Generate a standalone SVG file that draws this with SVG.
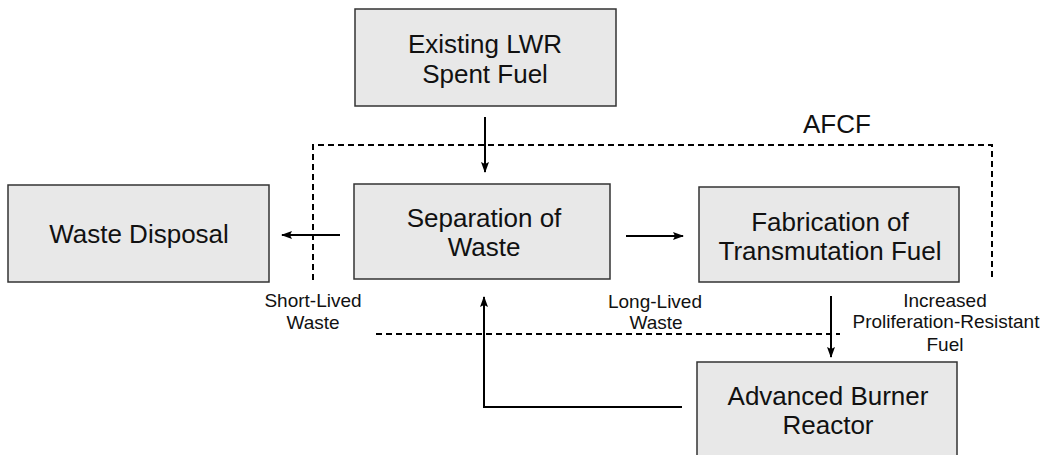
<svg xmlns="http://www.w3.org/2000/svg" width="1043" height="455" viewBox="0 0 1043 455">
<style>
.box{fill:#e8e8e8;stroke:#333;stroke-width:1.5}
.t{font-family:"Liberation Sans",Arial,sans-serif;font-size:26px;fill:#111;text-anchor:middle}
.s{font-family:"Liberation Sans",Arial,sans-serif;font-size:19px;fill:#111;text-anchor:middle}
.a{fill:none;stroke:#000;stroke-width:2;marker-end:url(#ah)}
.d{fill:none;stroke:#000;stroke-width:2;stroke-dasharray:6,4}
</style>
<defs>
<marker id="ah" viewBox="0 0 11 8" refX="10" refY="4" markerWidth="11" markerHeight="8" markerUnits="userSpaceOnUse" orient="auto">
<path d="M0,0 L11,4 L0,8 L2,4 Z" fill="#000"/>
</marker>
</defs>
<rect width="1043" height="455" fill="#fff"/>
<g id="afcf">
<polyline class="d" points="313,280 313,145 992,145 992,278"/>
<line class="d" x1="376" y1="334" x2="840" y2="334"/>
<text x="803" y="133" font-family="Liberation Sans,Arial,sans-serif" font-size="26" fill="#111">AFCF</text>
</g>
<g id="lwr">
<rect class="box" x="355" y="9" width="261" height="97"/>
<text class="t" x="485" y="53">Existing LWR</text>
<text class="t" x="485" y="83">Spent Fuel</text>
</g>
<g id="disposal">
<rect class="box" x="8" y="185" width="261" height="97"/>
<text class="t" x="139" y="243">Waste Disposal</text>
</g>
<g id="separation">
<rect class="box" x="354" y="184" width="256" height="95"/>
<text class="t" x="484" y="227">Separation of</text>
<text class="t" x="484" y="256">Waste</text>
</g>
<g id="fabrication">
<rect class="box" x="699" y="187" width="260" height="95"/>
<text class="t" x="830" y="231">Fabrication of</text>
<text class="t" x="830" y="260">Transmutation Fuel</text>
</g>
<g id="reactor">
<rect class="box" x="697" y="362" width="260" height="100"/>
<text class="t" x="828" y="405">Advanced Burner</text>
<text class="t" x="828" y="434">Reactor</text>
</g>
<g id="connectors">
<line class="a" x1="485" y1="117" x2="485" y2="172"/>
<line class="a" x1="340" y1="235" x2="282" y2="235"/>
<line class="a" x1="626" y1="236" x2="683" y2="236"/>
<line class="a" x1="831" y1="296" x2="831" y2="357"/>
<polyline class="a" points="682,407 484,407 484,297"/>
</g>
<g id="labels">
<text class="s" x="313" y="307">Short-Lived</text>
<text class="s" x="313" y="329">Waste</text>
<text class="s" x="655" y="308">Long-Lived</text>
<text class="s" x="656" y="329">Waste</text>
<text class="s" x="945" y="307">Increased</text>
<text class="s" x="946" y="328">Proliferation-Resistant</text>
<text class="s" x="945" y="351">Fuel</text>
</g>
</svg>
